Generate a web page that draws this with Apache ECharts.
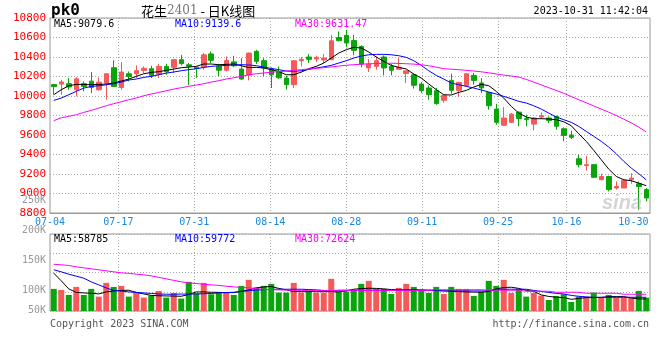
<!DOCTYPE html>
<html><head><meta charset="utf-8">
<script src="https://cdn.jsdelivr.net/npm/echarts@6/dist/echarts.min.js"></script>
<style>html,body{margin:0;padding:0;background:#fff}#c{width:660px;height:360px}</style>
</head><body><div id="c"></div>
<script>
const dates = ['07-04','07-05','07-06','07-07','07-10','07-11','07-12','07-13','07-14','07-17','07-18','07-19','07-20','07-21','07-24','07-25','07-26','07-27','07-28','07-31',
'08-01','08-02','08-03','08-04','08-07','08-08','08-09','08-10','08-11','08-14','08-15','08-16','08-17','08-18','08-21','08-22','08-23','08-24','08-25','08-28','08-29','08-30','08-31',
'09-01','09-04','09-05','09-06','09-07','09-08','09-11','09-12','09-13','09-14','09-15','09-18','09-19','09-20','09-21','09-22','09-25','09-26','09-27','09-28',
'10-09','10-10','10-11','10-12','10-13','10-16','10-17','10-18','10-19','10-20','10-23','10-24','10-25','10-26','10-27','10-30','10-31'];
const labelDates = ['07-04','07-17','07-31','08-14','08-28','09-11','09-25','10-16','10-30'];
const gridDates = ['07-17','07-31','08-14','08-28','09-11','09-25','10-16'];

const opens = [10118,10122,10126,10064,10126,10152,10064,10132,10290,10088,
10228,10228,10262,10280,10222,10304,10294,10372,10320,10296,
10298,10432,10304,10264,10350,10276,10216,10458,10362,10276,
10248,10184,10116,10362,10400,10380,10370,10372,10600,10622,
10570,10508,10288,10304,10400,10304,10274,10230,10218,10122,
10082,10054,9956,10160,10058,10106,10212,10134,10036,9866,
9700,9730,9834,9768,9712,9784,9774,9790,9664,9600,
9356,9286,9296,9142,9174,9056,9056,9142,9100,9040];
const closes = [10096,10144,10092,10176,10098,10088,10142,10228,10098,10246,
10200,10260,10284,10212,10304,10250,10372,10332,10306,10282,
10422,10366,10264,10364,10310,10174,10440,10356,10288,10218,
10186,10116,10362,10376,10376,10396,10390,10566,10568,10544,
10468,10328,10328,10362,10288,10264,10294,10258,10110,10054,
10014,9922,10006,10058,10140,10228,10160,10082,9900,9730,
9774,9814,9768,9758,9774,9798,9750,9690,9596,9576,
9296,9296,9166,9174,9040,9072,9134,9158,9072,8954];
const lows = [10016,10014,10064,9996,10048,10030,10056,9962,10098,10064,
10150,10184,10236,10184,10184,10218,10234,10314,10110,10186,
10270,10338,10202,10252,10296,10166,10160,10328,10202,10082,
10176,10066,10082,10304,10338,10348,10338,10370,10560,10500,
10418,10294,10246,10270,10212,10212,10272,10134,10076,10030,
9962,9910,9932,10024,9990,10098,10116,10030,9860,9706,
9698,9722,9690,9690,9648,9764,9722,9654,9536,9560,
9268,9234,9164,9134,9022,9040,9056,9100,8834,8920];
const highs = [10120,10166,10184,10194,10150,10246,10190,10236,10366,10348,
10252,10314,10304,10310,10330,10330,10380,10422,10338,10300,
10440,10456,10330,10406,10412,10388,10446,10474,10388,10294,
10304,10208,10364,10400,10430,10414,10430,10628,10662,10680,
10628,10520,10380,10406,10416,10328,10388,10260,10234,10142,
10108,10082,10008,10228,10142,10236,10236,10184,10038,9920,
9886,9826,9842,9808,9784,9832,9790,9798,9678,9644,
9398,9388,9298,9202,9182,9124,9150,9208,9124,9056];

const ma5 = [10013,10064,10105,10119,10119,10115,10119,10122,10133,10153,
10174,10201,10228,10242,10249,10263,10276,10290,10297,10304,
10328,10328,10321,10324,10328,10310,10292,10294,10287,10270,
10252,10218,10218,10245,10280,10304,10338,10389,10440,10475,
10499,10492,10451,10400,10355,10314,10294,10277,10225,10184,
10123,10065,10013,10010,10037,10058,10092,10119,10106,10047,
9979,9894,9825,9784,9767,9767,9764,9757,9736,9695,
9613,9535,9442,9346,9250,9175,9141,9131,9107,9080];
const ma10 = [9955,9979,10013,10047,10081,10098,10105,10115,10126,10143,
10164,10174,10191,10201,10218,10235,10246,10259,10270,10280,
10293,10304,10310,10314,10317,10321,10318,10311,10297,10283,
10270,10256,10252,10259,10273,10287,10300,10314,10338,10362,
10389,10410,10423,10427,10427,10423,10413,10396,10362,10314,
10259,10211,10174,10133,10116,10099,10082,10061,10041,10020,
9996,9972,9945,9928,9900,9866,9825,9784,9757,9730,
9688,9637,9586,9535,9476,9408,9330,9261,9203,9140];
const ma30 = [9747,9777,9791,9808,9832,9852,9876,9900,9921,9941,
9962,9979,10003,10020,10037,10054,10071,10085,10099,10112,
10126,10143,10157,10174,10187,10201,10218,10228,10236,10244,
10250,10256,10262,10270,10277,10284,10290,10298,10307,10315,
10321,10326,10330,10333,10335,10336,10334,10331,10327,10321,
10310,10296,10280,10275,10270,10263,10256,10248,10238,10226,
10214,10205,10194,10170,10142,10114,10085,10057,10028,9994,
9962,9930,9898,9866,9834,9800,9762,9725,9680,9632];

const volumes = [66,63,48,72,48,66,43,84,72,75,
43,55,40,46,60,40,54,37,87,53,
84,50,56,55,48,75,93,70,75,81,
55,55,84,55,60,55,55,96,58,58,
63,81,90,66,66,51,69,81,72,63,
54,72,51,72,66,66,45,58,90,75,
93,54,66,43,54,46,33,45,50,27,
43,43,55,40,48,40,40,40,60,40];
const volMa5 = [113,90,66,55.5,54,53,51,57,60,61.5,
62,55.5,51,46.5,45.5,45,44.5,44,49.5,57,
57,56,55.5,55,55,58.5,63,69,72,73,
67.5,63,58,58,58,58,58,58,57,60,
65,67,68,67.5,66,64,63,63,63,63,
62,61,60,59.5,58,57,56.5,56,58.5,66,
70,71,67.5,61.5,58.5,48,43.5,41,40,35,
37.5,40,40,40.5,43,43,43,39,36,36];
const volMa10 = [123,117,110,104,98,87,78,69,61.5,59.5,
57,55.5,54,52.5,51,50,50,50.5,50.5,51,
51.5,52.5,54,55,56,58.5,60.5,62.5,63.5,64.5,
65,65,65,65,64,63,61.5,60,62,62,
62,62,62,62,62,62,62,62,62,62,
62,62,60,60,60,60,60,60,60,65,
65,65,65,65,61.5,58.5,55.5,52.5,51,46.5,
44,42,41,41,41,41,41,41,41,41];
const volMa30 = [139.5,138,136,132,129,126,123,120,117,114,
112.5,110,108,105,100.5,96,91.5,87,84,82,
80,78,76.5,74,72,70.5,69,67,64.5,64,
63,62.5,62,61.5,61.5,61,61,61.5,61.5,61.5,
61.5,61.5,61.5,61.5,61.5,61.5,61.5,61.5,61.5,61.5,
61.5,63.5,63.5,63.5,63.5,63.5,63.5,63.5,62,62,
62,62,62,59,59,59,59,56,56,56,
56,53,53,53,53,53,50,50,50,50];

const volLabelsUpper = [100, 250, 50];
const volLabelsLower = [50, 100, 50];

const RED = '#f55a5a', GREEN = '#0aa50a';
const MONO = 'DejaVu Sans Mono';
const GRIDLINE = { color: '#aaa', type: [1, 2], width: 1 };

const candleData = dates.map((d, i) => [opens[i], closes[i], lows[i], highs[i]]);
const volData = volumes.map((v, i) => ({ value: v, itemStyle: { color: closes[i] >= opens[i] ? RED : GREEN } }));

function lineSeries(name, data, color, xi, yi) {
  return { name, type: 'line', data, xAxisIndex: xi, yAxisIndex: yi, symbol: 'none', smooth: false,
    lineStyle: { color, width: 1 }, itemStyle: { color }, z: 5, silent: true };
}
function hiddenCat(gi) { return { type: 'category', gridIndex: gi, data: dates, boundaryGap: true, show: false }; }
function gridCat(gi, withLabels) {
  return {
    type: 'category', gridIndex: gi, data: dates, boundaryGap: false, position: 'bottom',
    axisLine: { show: withLabels, lineStyle: { color: '#999' } },
    axisTick: { show: false },
    axisLabel: withLabels ? {
      show: true, interval: (i, v) => labelDates.includes(v), color: '#1a88e0',
      fontFamily: MONO, fontSize: 10, margin: 4,
      formatter: v => v === '10-30' ? '{s|' + v + '}' : v,
      rich: { s: { padding: [0, 18, 0, 0], color: '#1a88e0', fontFamily: MONO, fontSize: 10 } }
    } : { show: false },
    splitLine: { show: true, interval: (i, v) => gridDates.includes(v), lineStyle: GRIDLINE }
  };
}
const txt = (x, y, text, fill, font, align) => ({
  type: 'text', x, y, silent: true, z: 100,
  style: { text, fill, font, textAlign: align || 'left', textVerticalAlign: 'middle', align: align || 'left', verticalAlign: 'middle' }
});

const chart = echarts.init(document.getElementById('c'), null, { renderer: 'canvas' });
chart.setOption({
  animation: false,
  backgroundColor: '#fff',
  grid: [
    { left: 50, top: 18, width: 600, height: 195, show: true, borderColor: '#999', borderWidth: 1, backgroundColor: 'transparent' },
    { left: 50, top: 234, width: 600, height: 77, show: true, borderColor: '#999', borderWidth: 1, backgroundColor: 'transparent' },
    { left: 50, top: 200.7, width: 600, height: 90, show: false },
    { left: 50, top: 290.7, width: 600, height: 20, show: false }
  ],
  xAxis: [
    hiddenCat(0), gridCat(0, true), hiddenCat(1), gridCat(1, false),
    { type: 'value', gridIndex: 2, show: false, min: 0, max: 1 },
    { type: 'value', gridIndex: 3, show: false, min: 0, max: 1 }
  ],
  yAxis: [
    { type: 'value', gridIndex: 0, min: 8800, max: 10800, interval: 200,
      axisLine: { show: false }, axisTick: { show: false },
      axisLabel: { color: '#f00', fontFamily: MONO, fontSize: 11, margin: 4, padding: [0, 0, 3, 0], formatter: v => String(v) },
      splitLine: { lineStyle: GRIDLINE } },
    { type: 'value', gridIndex: 1, min: 0, max: 230, interval: 57.5,
      axisLine: { show: false }, axisTick: { show: false }, axisLabel: { show: false },
      splitLine: { lineStyle: GRIDLINE } },
    { type: 'value', gridIndex: 2, min: volLabelsUpper[0], max: volLabelsUpper[1], interval: volLabelsUpper[2],
      axisLine: { show: false }, axisTick: { show: false }, splitLine: { show: false },
      axisLabel: { color: '#999', fontFamily: MONO, fontSize: 10, margin: 4, formatter: v => v + 'K' } },
    { type: 'value', gridIndex: 3, min: volLabelsLower[0], max: volLabelsLower[1], interval: volLabelsLower[2],
      axisLine: { show: false }, axisTick: { show: false }, splitLine: { show: false },
      axisLabel: { color: '#999', fontFamily: MONO, fontSize: 10, margin: 4, showMaxLabel: false, formatter: v => v + 'K' } }
  ],
  series: [
    { type: 'candlestick', xAxisIndex: 0, yAxisIndex: 0, data: candleData, barWidth: 5,
      itemStyle: { color: RED, color0: GREEN, borderColor: RED, borderColor0: GREEN, borderWidth: 1 } },
    lineSeries('MA5', ma5, '#000', 0, 0),
    lineSeries('MA10', ma10, '#0000ff', 0, 0),
    lineSeries('MA30', ma30, '#ff00ff', 0, 0),
    { type: 'bar', xAxisIndex: 2, yAxisIndex: 1, data: volData, barWidth: 6, silent: true },
    lineSeries('VMA5', volMa5, '#000', 2, 1),
    lineSeries('VMA10', volMa10, '#0000ff', 2, 1),
    lineSeries('VMA30', volMa30, '#ff00ff', 2, 1)
  ],
  graphic: [
    txt(51, 11, 'pk0', '#000', 'bold 16px "DejaVu Sans Mono"'),
    { type: 'text', x: 141, y: 11, silent: true, z: 100,
      style: { text: '{a|花生}{b|2401}{a| - 日K线图}', textVerticalAlign: 'middle', verticalAlign: 'middle',
        rich: { a: { fill: '#000', color: '#000', fontFamily: 'Noto Sans CJK SC', fontSize: 13 },
                b: { fill: '#777', color: '#777', fontFamily: 'DejaVu Serif', fontSize: 12 } } } },
    txt(648, 11, '2023-10-31 11:42:04', '#000', '10px "DejaVu Sans Mono"', 'right'),
    txt(54, 24, 'MA5:9079.6', '#000', '10px "DejaVu Sans Mono"'),
    txt(175, 24, 'MA10:9139.6', '#0000ff', '10px "DejaVu Sans Mono"'),
    txt(295, 24, 'MA30:9631.47', '#ff00ff', '10px "DejaVu Sans Mono"'),
    txt(54, 239, 'MA5:58785', '#000', '10px "DejaVu Sans Mono"'),
    txt(175, 239, 'MA10:59772', '#0000ff', '10px "DejaVu Sans Mono"'),
    txt(295, 239, 'MA30:72624', '#ff00ff', '10px "DejaVu Sans Mono"'),
    txt(50, 324, 'Copyright 2023 SINA.COM', '#555', '10px "DejaVu Sans Mono"'),
    txt(649, 324, 'http://finance.sina.com.cn', '#555', '10px "DejaVu Sans Mono"', 'right'),
    txt(602, 203, 'sina', 'rgba(160,160,160,0.45)', 'italic bold 20px "Liberation Sans"')
  ]
});
</script></body></html>
